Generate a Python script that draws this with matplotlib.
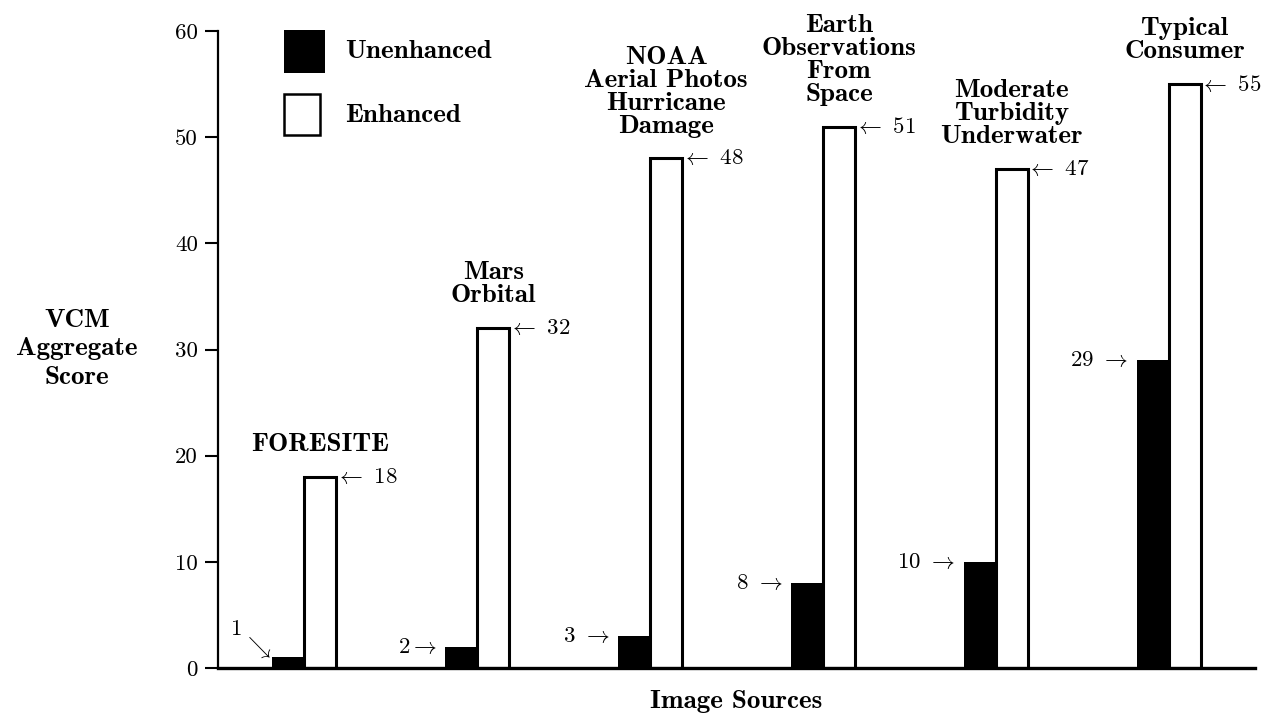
import numpy as np
import matplotlib
matplotlib.use('Agg')
import matplotlib.pyplot as plt
from matplotlib.patches import Rectangle

plt.rcParams['mathtext.fontset'] = 'cm'
plt.rcParams['axes.unicode_minus'] = False

# data
sources = ['FORESITE', 'Mars\nOrbital', 'NOAA\nAerial Photos\nHurricane\nDamage',
           'Earth\nObservations\nFrom\nSpace', 'Moderate\nTurbidity\nUnderwater',
           'Typical\nConsumer']
unenhanced = [1, 2, 3, 8, 10, 29]
enhanced = [18, 32, 48, 51, 47, 55]
yticks = [0, 10, 20, 30, 40, 50, 60]

fs = 16.5   # numbers
bfs = 19.5  # bold labels
x = np.arange(1, len(sources) + 1)
w = 0.185
W, H = 1272, 719

fig = plt.figure(figsize=(12.72, 7.19), dpi=100)
ax = fig.add_axes([218/W, 1 - 668/H, (1255 - 218)/W, (668 - 31)/H])

b1 = ax.bar(x - w, unenhanced, w, align='edge', color='black', edgecolor='black',
            linewidth=0)
b2 = ax.bar(x, enhanced, w, align='edge', color='white', edgecolor='black',
            linewidth=2.2)

ax.set_xlim(0.5, 6.5)
ax.set_ylim(0, 60)
ax.set_yticks(yticks)
ax.set_yticklabels([str(t) for t in yticks], fontfamily='cmr10', fontsize=fs)
ax.set_xticks([])
ax.tick_params(axis='y', direction='out', length=9.5, width=1.5, pad=5)
for s in ['top', 'right']:
    ax.spines[s].set_visible(False)
ax.spines['left'].set_linewidth(1.6)
ax.spines['bottom'].set_linewidth(2.4)

# group titles
for xi, name, v in zip(x, sources, enhanced):
    ax.annotate(name, (xi + w/2, v), xytext=(0, 15), textcoords='offset points',
                ha='center', va='bottom', fontfamily='cmb10', fontsize=bfs,
                linespacing=1.0)

# value labels
for xi, v in zip(x, enhanced):
    ax.annotate(r'$\leftarrow$ ' + str(v), (xi + w, v), xytext=(-1, 0),
                textcoords='offset points', ha='left', va='center',
                fontfamily='cmr10', fontsize=fs)

for i, (xi, v) in enumerate(zip(x, unenhanced)):
    if i == 0:
        ax.annotate('1', (xi - w, v), xytext=(-22, 13), textcoords='offset points',
                    ha='right', va='bottom', fontfamily='cmr10', fontsize=fs)
        ax.annotate(r'$\searrow$', (xi - w, v), xytext=(-1, -2), textcoords='offset points',
                    ha='right', va='bottom', fontsize=fs)
    else:
        sep = '' if i == 1 else ' '
        ax.annotate(str(v) + sep + r'$\rightarrow$', (xi - w, v), xytext=(-6, 0),
                    textcoords='offset points', ha='right', va='center',
                    fontfamily='cmr10', fontsize=fs)

# legend drawn by hand
fig.add_artist(Rectangle((284/W, 1 - 73/H), 41/W, 43/H, transform=fig.transFigure,
                         facecolor='black', edgecolor='black', linewidth=0))
fig.add_artist(Rectangle((284/W, 1 - 135/H), 36/W, 41/H, transform=fig.transFigure,
                         facecolor='white', edgecolor='black', linewidth=1.8))
fig.text(345/W, 1 - 52/H, 'Unenhanced', ha='left', va='center',
         fontfamily='cmb10', fontsize=bfs)
fig.text(345/W, 1 - 115/H, 'Enhanced', ha='left', va='center',
         fontfamily='cmb10', fontsize=bfs)

fig.text(77/W, 1 - 349/H, 'VCM\nAggregate\nScore', ha='center', va='center',
         fontfamily='cmb10', fontsize=bfs, linespacing=1.3)
ax.set_xlabel('Image Sources', fontfamily='cmb10', fontsize=bfs, labelpad=16)

fig.savefig('out.png', dpi=100)
